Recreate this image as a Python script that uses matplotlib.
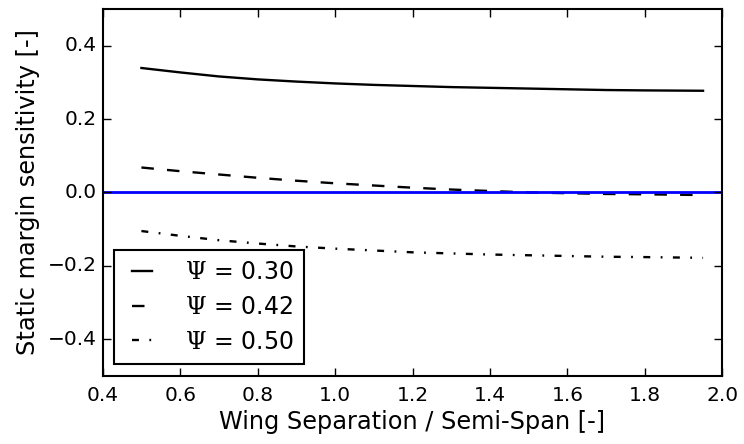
import matplotlib
matplotlib.use("Agg")
import matplotlib.pyplot as plt
import numpy as np

# --- Data ---
separation = [0.5, 0.6, 0.7, 0.8, 0.9, 1.0, 1.1, 1.2, 1.3, 1.4, 1.5, 1.6, 1.7, 1.8, 1.95]
sm_psi_030 = [0.339, 0.327, 0.316, 0.308, 0.302, 0.297, 0.293, 0.290, 0.287, 0.285,
              0.283, 0.281, 0.279, 0.278, 0.277]
sm_psi_042 = [0.068, 0.058, 0.049, 0.040, 0.032, 0.025, 0.019, 0.013, 0.008, 0.004,
              0.000, -0.002, -0.004, -0.005, -0.007]
sm_psi_050 = [-0.105, -0.118, -0.130, -0.139, -0.147, -0.153, -0.158, -0.163, -0.166,
              -0.169, -0.171, -0.173, -0.175, -0.176, -0.178]
psi_labels = [r"$\Psi$ = 0.30", r"$\Psi$ = 0.42", r"$\Psi$ = 0.50"]

plt.style.use('classic')
plt.rcParams['font.family'] = ['DejaVu Sans']
plt.rcParams['mathtext.fontset'] = 'dejavuserif'
plt.rcParams['font.size'] = 16

fig, ax = plt.subplots(figsize=(7.44, 4.44), dpi=100)
fig.patch.set_facecolor('white')
fig.subplots_adjust(left=0.138, right=0.971, top=0.98, bottom=0.153)

ax.plot(separation, sm_psi_030, color='k', linestyle='-', linewidth=1.7, label=psi_labels[0])
ax.plot(separation, sm_psi_042, color='k', linestyle=(0, (9, 9.5)), linewidth=1.7, label=psi_labels[1])
ax.plot(separation, sm_psi_050, color='k', linestyle=(0, (5, 7.5, 1.3, 7.5)), linewidth=1.7,
        label=psi_labels[2])
ax.axhline(0.0, color='b', linewidth=2)

ax.set_xlim(0.4, 2.0)
ax.set_ylim(-0.5, 0.5)
ax.set_xticks(np.arange(0.4, 2.01, 0.2))
ax.set_yticks([-0.4, -0.2, 0.0, 0.2, 0.4])
ax.tick_params(which='major', length=6, width=1, labelsize=14.5)
ax.tick_params(axis='x', pad=7)
ax.tick_params(axis='y', pad=4)
for sp in ax.spines.values():
    sp.set_linewidth(1.5)

ax.set_xlabel('Wing Separation / Semi-Span [-]', fontsize=17.3, labelpad=4)
ax.set_ylabel('Static margin sensitivity [-]', fontsize=17.3, labelpad=6)

leg = ax.legend(loc='lower left', fontsize=17, handlelength=1.45, handletextpad=1.1,
                labelspacing=0.45, borderpad=0.45, borderaxespad=0.5)
leg.get_frame().set_linewidth(1.5)

fig.savefig('out.png', dpi=100, facecolor='white')
